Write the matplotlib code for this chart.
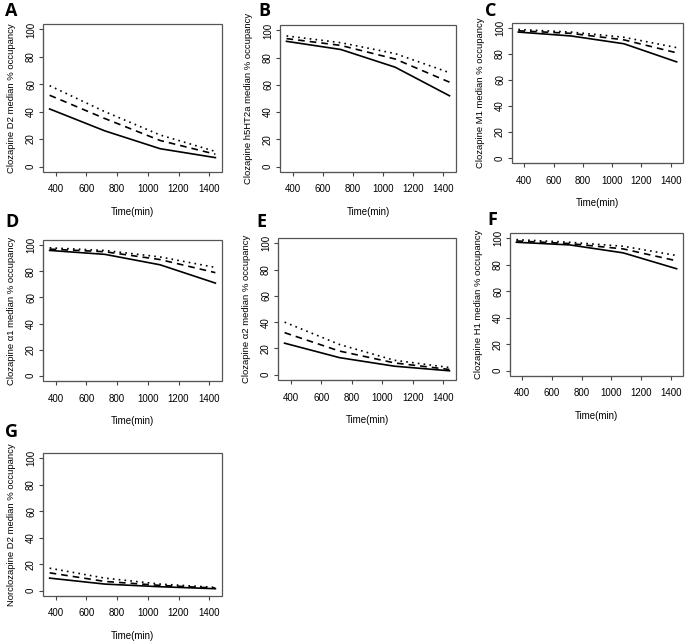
import matplotlib
matplotlib.use("Agg")
import matplotlib.pyplot as plt
from matplotlib.patches import Rectangle

plt.rcParams['font.family'] = ['Liberation Sans', 'DejaVu Sans']

times = [360, 720, 1080, 1440]

# median occupancy per panel: solid, dashed, dotted
panel_letters = ["A", "B", "C", "D", "E", "F", "G"]
ylabels = [
    "Clozapine D2 median % occupancy",
    "Clozapine h5HT2a median % occupancy",
    "Clozapine M1 median % occupancy",
    "Clozapine \u03b11 median % occupancy",
    "Clozapine \u03b12 median % occupancy",
    "Clozapine H1 median % occupancy",
    "Norclozapine D2 median % occupancy",
]
solid = [
    [42, 26, 13, 6.5],
    [92, 86, 73, 52],
    [97, 94, 88, 74],
    [96, 93, 85, 71],
    [24, 13, 6.5, 3],
    [97, 95, 89, 77],
    [9.5, 5, 3, 1.5],
]
dashed = [
    [52, 35, 19, 9],
    [94, 89, 79, 62],
    [98, 96, 91, 81],
    [97, 95, 89, 79],
    [32, 18, 9, 4],
    [98, 96, 92, 83],
    [13.5, 7, 4, 2],
]
dotted = [
    [59, 40, 23, 11],
    [96, 91, 83, 69],
    [99, 97, 93, 85],
    [98, 96, 91, 83],
    [40, 23, 11, 5.5],
    [99, 97, 94, 87],
    [17, 9.5, 5, 2.5],
]

# axes boxes in pixels: left, top, right, bottom
boxes = [
    (43, 24, 222, 172), (280, 25, 456, 172), (512, 23, 683, 163),
    (43, 240, 222, 381), (278, 238, 456, 380), (510, 233, 683, 376),
    (43, 453, 222, 596),
]
letter_pos = [(5, 2), (258, 2), (485, 2), (5, 213), (256, 213), (487, 211), (5, 423)]

W, H = 685, 641
fig = plt.figure(figsize=(W / 100, H / 100), dpi=100)

for i in range(7):
    l, t, r, b = boxes[i]
    ax = fig.add_axes([l / W, 1 - b / H, (r - l) / W, (b - t) / H])
    ax.plot(times, solid[i], color="black", lw=1.2, ls="-")
    ax.plot(times, dashed[i], color="black", lw=1.2, ls=(0, (4, 3)))
    ax.plot(times, dotted[i], color="black", lw=1.2, ls=(0, (1, 2.5)))
    ax.set_xlim(316.8, 1483.2)
    ax.set_ylim(-4, 104)
    ax.set_xticks([400, 600, 800, 1000, 1200, 1400])
    ax.set_yticks([0, 20, 40, 60, 80, 100])
    for side in ["top", "right", "left", "bottom"]:
        ax.spines[side].set_visible(False)
    ax.add_patch(Rectangle((0, 0), 1, 1, transform=ax.transAxes, fill=False,
                           ec="#555555", lw=0.9, clip_on=False))
    ax.spines["left"].set_visible(True)
    ax.spines["bottom"].set_visible(True)
    ax.spines["left"].set_bounds(0, 100)
    ax.spines["bottom"].set_bounds(400, 1400)
    ax.spines["left"].set_color("#555555")
    ax.spines["bottom"].set_color("#555555")
    ax.tick_params(direction="out", length=3, width=0.8, color="#444444",
                   labelsize=7)
    ax.tick_params(axis="x", pad=6)
    ax.tick_params(axis="y", pad=2)
    for lab in ax.get_yticklabels():
        lab.set_rotation(90)
        lab.set_va("center")
    ax.set_xlabel("Time(min)", fontsize=7, labelpad=9)
    ax.set_ylabel(ylabels[i], fontsize=6.8, labelpad=7)
    lx, ly = letter_pos[i]
    fig.text(lx / W, 1 - ly / H, panel_letters[i], fontsize=13, fontweight="bold",
             family=["Open Sans", "DejaVu Sans"], ha="left", va="top")

fig.savefig("out.png", dpi=100)
